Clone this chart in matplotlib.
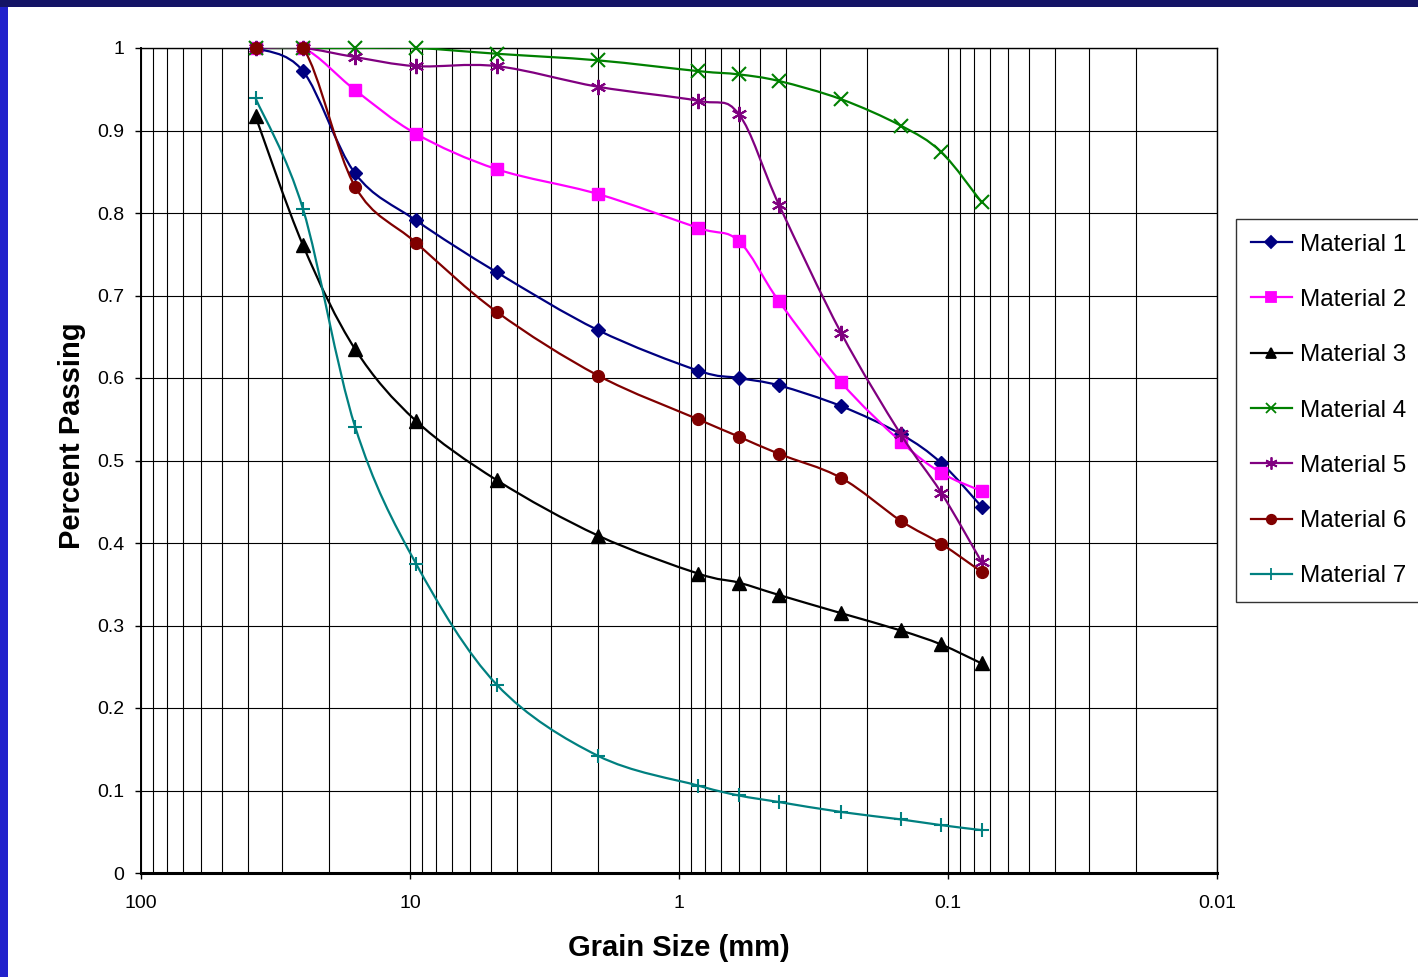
import numpy as np
import matplotlib
matplotlib.use('Agg')
import matplotlib.pyplot as plt
from matplotlib.path import Path
from matplotlib.patches import PathPatch, Rectangle
from matplotlib.lines import Line2D
from matplotlib.ticker import LogLocator, FuncFormatter, NullFormatter

plt.rcParams['font.family'] = ['Liberation Sans', 'DejaVu Sans']

# sieve sizes (mm)
grain_size = [37.5, 25, 16, 9.5, 4.75, 2.0, 0.85, 0.6, 0.425, 0.25, 0.15, 0.106, 0.075]

material_1 = [1.0, 0.972, 0.848, 0.791, 0.728, 0.658, 0.609, 0.600, 0.591, 0.566, 0.532, 0.497, 0.444]
material_2 = [1.0, 1.0, 0.949, 0.896, 0.853, 0.823, 0.782, 0.766, 0.693, 0.595, 0.523, 0.485, 0.463]
material_3 = [0.917, 0.761, 0.635, 0.548, 0.476, 0.409, 0.363, 0.352, 0.337, 0.315, 0.294, 0.277, 0.254]
material_4 = [1.0, 1.0, 1.0, 1.0, 0.993, 0.985, 0.972, 0.968, 0.960, 0.938, 0.906, 0.874, 0.813]
material_5 = [1.0, 1.0, 0.989, 0.978, 0.978, 0.953, 0.936, 0.920, 0.810, 0.655, 0.532, 0.461, 0.377]
material_6 = [1.0, 1.0, 0.832, 0.764, 0.680, 0.603, 0.550, 0.529, 0.508, 0.479, 0.427, 0.399, 0.365]
material_7 = [0.939, 0.805, 0.541, 0.375, 0.228, 0.142, 0.106, 0.094, 0.086, 0.074, 0.065, 0.058, 0.052]

names = ['Material 1', 'Material 2', 'Material 3', 'Material 4',
         'Material 5', 'Material 6', 'Material 7']
series = [material_1, material_2, material_3, material_4, material_5, material_6, material_7]
colors = ['#000080', '#FF00FF', '#000000', '#008000', '#800080', '#800000', '#008080']
markers = ['D', 's', '^', 'x', (6, 2, 0), 'o', '+']
msizes = [7.5, 8.5, 9.5, 9.5, 11, 8.5, 10.5]


def smooth_path(xs, ys):
    # excel style smoothed line: catmull-rom bezier in log(x) space
    pts = np.column_stack([np.log10(xs), ys])
    n = len(pts)
    verts = [pts[0]]
    codes = [Path.MOVETO]
    for i in range(n - 1):
        p0 = pts[i - 1] if i > 0 else pts[i]
        p1 = pts[i]
        p2 = pts[i + 1]
        p3 = pts[i + 2] if i + 2 < n else pts[i + 1]
        verts += [p1 + (p2 - p0) / 6, p2 - (p3 - p1) / 6, p2]
        codes += [Path.CURVE4] * 3
    verts = np.array(verts)
    verts[:, 0] = 10 ** verts[:, 0]
    return Path(verts, codes)


fig = plt.figure(figsize=(14.18, 9.77), dpi=100)
ax = fig.add_axes([141 / 1418, 1 - 873 / 977, (1217 - 141) / 1418, (873 - 48) / 977])

# slide border
fig.patches.append(Rectangle((0, 0), 8 / 1418, 1, transform=fig.transFigure,
                             facecolor='#2222CC', edgecolor='none', zorder=0))
fig.patches.append(Rectangle((0, 1 - 7 / 977), 1, 7 / 977, transform=fig.transFigure,
                             facecolor='#141466', edgecolor='none', zorder=0))

handles = []
for i in range(len(series)):
    c = colors[i]
    ax.add_patch(PathPatch(smooth_path(grain_size, series[i]), fill=False,
                           edgecolor=c, linewidth=1.6, zorder=3 + i * 0.1))
    mfc = c if markers[i] in ('D', 's', '^', 'o') else 'none'
    mew = 1.5 if mfc == 'none' else 1.0
    ax.plot(grain_size, series[i], linestyle='none', marker=markers[i], markersize=msizes[i],
            color=c, markerfacecolor=mfc, markeredgecolor=c, markeredgewidth=mew,
            zorder=3.05 + i * 0.1, clip_on=False)
    handles.append(Line2D([], [], color=c, linewidth=1.6, marker=markers[i],
                          markersize=msizes[i] * 0.8, markerfacecolor=mfc,
                          markeredgecolor=c, markeredgewidth=1.3))

ax.set_xscale('log')
ax.set_xlim(100, 0.01)
ax.set_ylim(0, 1)
ax.set_yticks(np.arange(0, 1.01, 0.1))
ax.yaxis.set_major_formatter(FuncFormatter(lambda v, p: '%g' % round(v, 2)))
ax.xaxis.set_major_locator(LogLocator(base=10))
ax.xaxis.set_minor_locator(LogLocator(base=10, subs=range(2, 10)))
ax.xaxis.set_major_formatter(FuncFormatter(lambda v, p: '%g' % v))
ax.xaxis.set_minor_formatter(NullFormatter())

ax.grid(True, which='major', axis='both', color='black', linewidth=0.8)
ax.grid(True, which='minor', axis='x', color='black', linewidth=0.8)
ax.set_axisbelow(True)

ax.tick_params(axis='both', which='major', direction='out', length=4, width=1,
               labelsize=14, colors='black')
ax.tick_params(axis='x', which='major', pad=12)
ax.tick_params(axis='y', which='major', pad=8)
ax.tick_params(axis='x', which='minor', length=0)

for s in ax.spines.values():
    s.set_color('black')
    s.set_linewidth(1.0)
ax.spines['bottom'].set_linewidth(2.2)
ax.spines['left'].set_linewidth(1.4)

ax.set_xlabel('Grain Size (mm)', fontsize=21, fontweight='bold', labelpad=16)
ax.set_ylabel('Percent Passing', fontsize=21, fontweight='bold', labelpad=8)
ax.yaxis.label.set_y((873 - 436) / 825)

leg = fig.legend(handles, names, loc='upper left',
                 bbox_to_anchor=(1236 / 1418, 1 - 219 / 977), borderaxespad=0,
                 fontsize=17.5, frameon=True, fancybox=False, edgecolor='black',
                 handlelength=1.7, handletextpad=0.35, labelspacing=1.37,
                 borderpad=0.6)
leg.get_frame().set_linewidth(1.0)

fig.savefig('out.png', dpi=100, facecolor='white')
